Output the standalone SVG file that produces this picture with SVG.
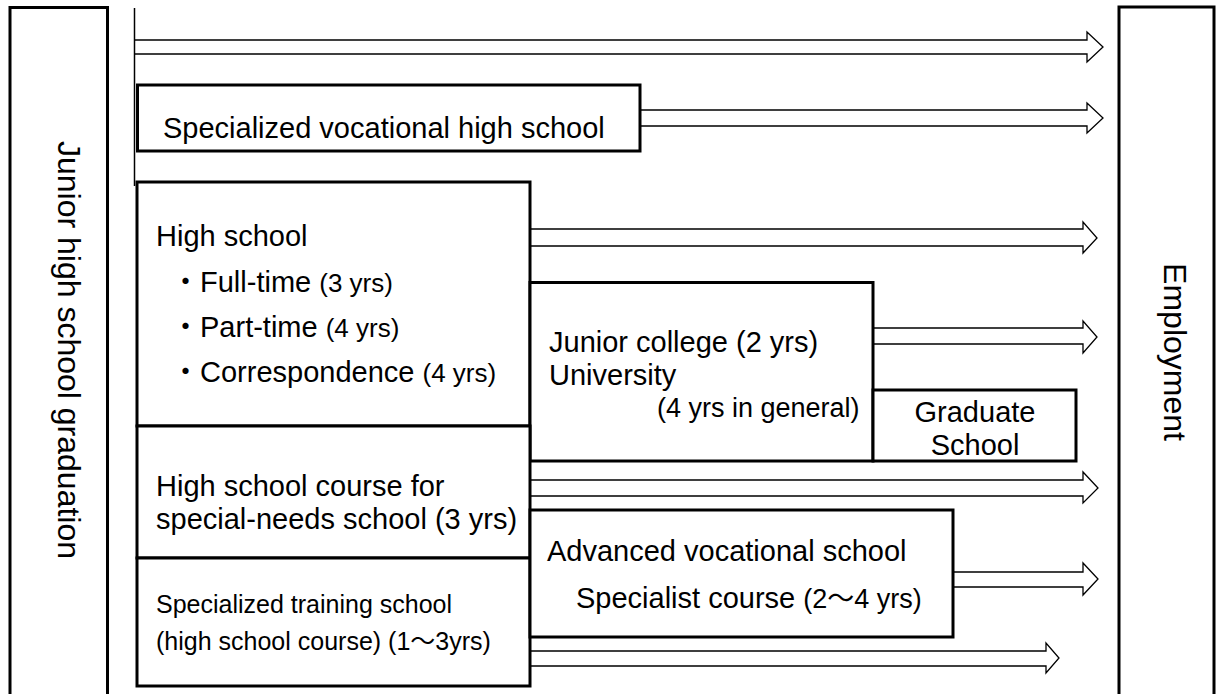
<svg xmlns="http://www.w3.org/2000/svg" width="1217" height="694" viewBox="0 0 1217 694">
<style>
.box{fill:#fff;stroke:#000;stroke-width:3}
.arr{fill:#fff;stroke:#000;stroke-width:1.3;stroke-linejoin:miter}
.vl{stroke:#000;stroke-width:1.5;fill:none}
text{font-family:"Liberation Sans",Arial,"Noto Sans CJK JP",sans-serif;font-size:29px;fill:#000}
.s25{font-size:25px}
.s26{font-size:26px}
.s27{font-size:27px}
.v{font-size:32px}
</style>
<rect width="1217" height="694" fill="#fff"/>
<g id="connectors">
<path class="arr" d="M135,40 H1087 V32 L1103,47 L1087,62 V54 H135"/>
<path class="arr" d="M640,110 H1087 V103 L1103,118 L1087,133 V126 H640"/>
<path class="arr" d="M530,229 H1083 V222 L1097,238 L1083,253 V246 H530"/>
<path class="arr" d="M873,328 H1083 V321 L1097,337 L1083,353 V344 H873"/>
<path class="arr" d="M530,480 H1083 V472 L1098,488 L1083,503 V496 H530"/>
<path class="arr" d="M953,572 H1083 V563 L1098,579 L1083,595 V587 H953"/>
<path class="arr" d="M530,651 H1046 V643 L1059,658 L1046,673 V666 H530"/>
<line class="vl" x1="134.5" y1="8" x2="134.5" y2="186"/>
</g>
<g id="jhs">
<rect class="box" x="10" y="7.5" width="97.5" height="700"/>
<text class="v" transform="translate(58,350) rotate(90)" text-anchor="middle">Junior high school graduation</text>
</g>
<g id="employment">
<rect class="box" x="1119" y="7" width="95" height="700"/>
<text class="v" transform="translate(1164,352) rotate(90)" text-anchor="middle">Employment</text>
</g>
<g id="spec-voc">
<rect class="box" x="137.5" y="85" width="502.5" height="66"/>
<text x="163" y="138">Specialized vocational high school</text>
</g>
<g id="high-school">
<rect class="box" x="137" y="182" width="393" height="244"/>
<text x="156" y="246">High school</text>
<text x="171" y="292">・Full-time <tspan class="s26">(3 yrs)</tspan></text>
<text x="171" y="337">・Part-time <tspan class="s26">(4 yrs)</tspan></text>
<text x="171" y="382">・Correspondence <tspan class="s26">(4 yrs)</tspan></text>
</g>
<g id="junior-college">
<rect class="box" x="530" y="282.5" width="343" height="178.5"/>
<text x="549" y="352">Junior college (2 yrs)</text>
<text x="549" y="385">University</text>
<text class="s27" x="657" y="417">(4 yrs in general)</text>
</g>
<g id="graduate">
<rect class="box" x="873" y="390" width="203" height="71"/>
<text x="975" y="422" text-anchor="middle">Graduate</text>
<text x="975" y="455" text-anchor="middle">School</text>
</g>
<g id="special-needs">
<rect class="box" x="137" y="426" width="393" height="132"/>
<text x="156" y="496">High school course for</text>
<text x="156" y="529">special-needs school (3 yrs)</text>
</g>
<g id="training">
<rect class="box" x="137" y="558" width="393" height="128"/>
<text class="s25" x="156" y="613">Specialized training school</text>
<text class="s25" x="156" y="650">(high school course) (1～3yrs)</text>
</g>
<g id="advanced">
<rect class="box" x="530" y="510" width="423" height="127"/>
<text x="547" y="561">Advanced vocational school</text>
<text x="576" y="608">Specialist course <tspan class="s27">(2～4 yrs)</tspan></text>
</g>
</svg>
